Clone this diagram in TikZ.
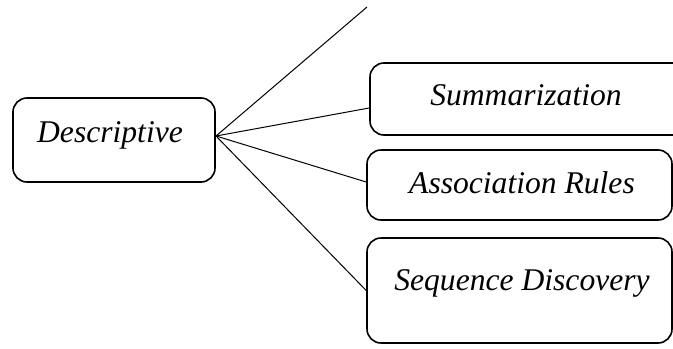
\documentclass[tikz,border=0pt]{standalone}
\usepackage{fontspec}
\setmainfont{Liberation Serif}
\usetikzlibrary{positioning}

\begin{document}
\begin{tikzpicture}[x=0.5pt, y=-0.5pt,
    box/.style={draw, line width=0.8pt, rounded corners=7pt, inner sep=0pt},
    txt/.style={anchor=base, inner sep=0pt, font=\fontsize{15.8}{19}\selectfont\itshape},
    link/.style={line width=0.5pt}]
    \useasboundingbox (0,0) rectangle (673,348);
    \clip (0,0) rectangle (673,348);
    % boxes
    \node[box, minimum width=101pt, minimum height=42pt] (desc) at (114,140) {};
    \node[box, minimum width=170pt, minimum height=36pt] (summ) at (540,99) {};
    \node[box, minimum width=152.5pt, minimum height=35pt] (assoc) at (519.5,185) {};
    \node[box, minimum width=152.5pt, minimum height=52.5pt] (seq) at (519.5,290.5) {};
	% labels
    \node[txt] (descT) at (110,142) {Descriptive};
    \node[txt] (summT) at (526,105) {Summarization};
    \node[txt] (assocT) at (522,193) {Association Rules};
    \node[txt] (seqT) at (522,290) {Sequence Discovery};
    % links
    \coordinate (hub) at (216,136);
    \coordinate (top) at (367,7);
    \draw[link] (hub) -- (top);
    \draw[link] (hub) -- ([yshift=-4.5pt]summ.west);
    \draw[link] (hub) -- ([yshift=1.5pt]assoc.west);
    \draw[link] (hub) -- (seq.west);
\end{tikzpicture}
\end{document}
